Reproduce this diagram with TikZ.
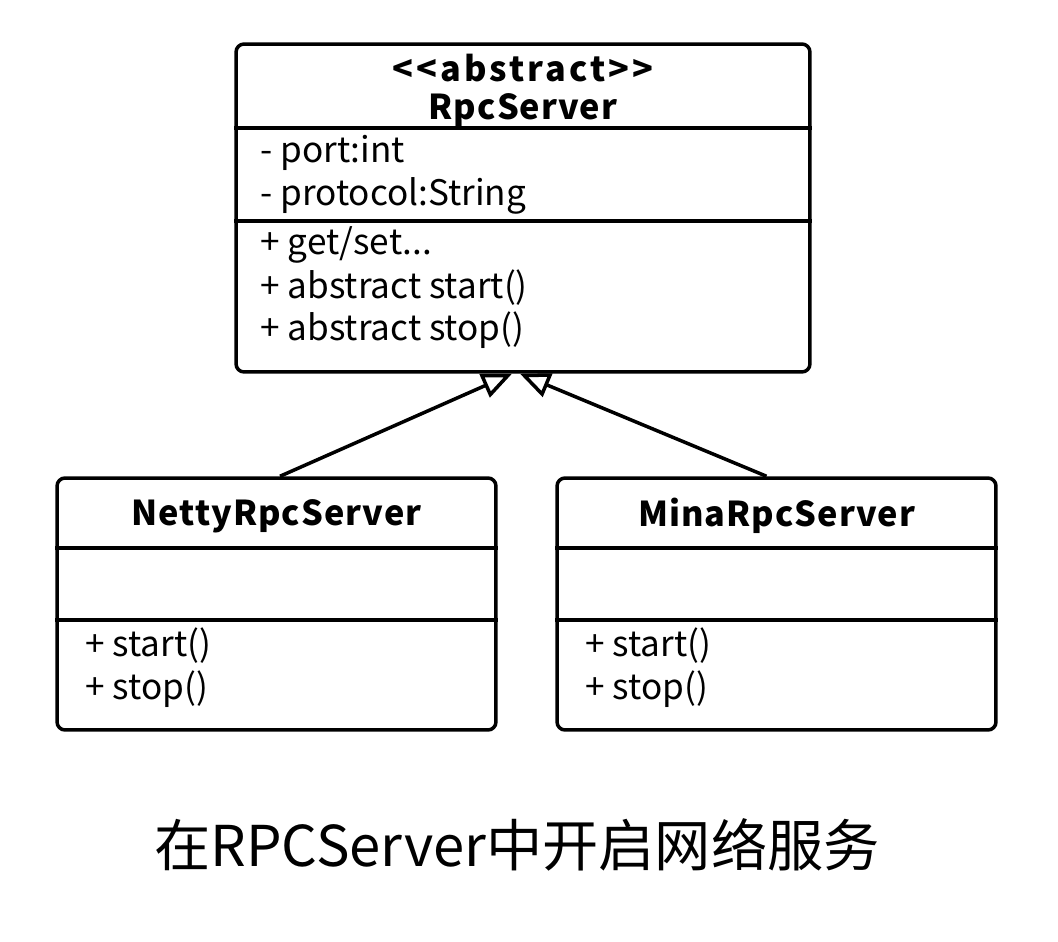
\documentclass[tikz,border=0pt]{standalone}
\usepackage{fontspec}
\setmainfont{Noto Sans CJK SC}
\usetikzlibrary{arrows.meta}

\begin{document}
\begin{tikzpicture}[x=0.02cm, y=-0.02cm,
  umlbox/.style={draw, line width=2pt, rounded corners=0.16cm, inner sep=0pt},
  member/.style={anchor=west, inner sep=0pt, font=\fontsize{20}{24}\selectfont},
  classname/.style={inner sep=0pt, font=\bfseries\fontsize{19.5}{24}\selectfont\addfontfeature{LetterSpace=3}},
  divider/.style={line width=2pt},
  inherit/.style={line width=2pt, -{Triangle[open, length=0.6cm, width=0.5cm]}}]
\useasboundingbox (0,0) rectangle (1058,942);
% class boxes
\node[umlbox, minimum width=11.48cm, minimum height=6.56cm] (rpc) at (523,208) {};
\node[umlbox, minimum width=8.78cm, minimum height=5.04cm] (netty) at (276.5,604) {};
\node[umlbox, minimum width=8.78cm, minimum height=5.04cm] (mina) at (776.5,604) {};
% compartments
\draw[divider] ([yshift=-1.72cm]rpc.north west) -- ([yshift=-1.72cm]rpc.north east);
\draw[divider] ([yshift=-3.58cm]rpc.north west) -- ([yshift=-3.58cm]rpc.north east);
\foreach \cls in {netty, mina}
{
  \draw[divider] ([yshift=-1.44cm]\cls.north west) -- ([yshift=-1.44cm]\cls.north east);
  \draw[divider] ([yshift=-2.88cm]\cls.north west) -- ([yshift=-2.88cm]\cls.north east);
}
% RpcServer
\node[classname, font=\bfseries\fontsize{19.5}{24}\selectfont\addfontfeature{LetterSpace=9}] (rpcStereo) at (523,68) {<{}<abstract>{}>};
\node[classname] (rpcName) at (523,110) {RpcServer};
\foreach \nm/\txt/\ypos in {
  rpcPort/{- port:int}/153,
  rpcProto/{- protocol:String}/196,
  rpcGetSet/{+ get/set...}/245,
  rpcStart/{+ abstract start()}/288,
  rpcStop/{+ abstract stop()}/330}
{
  \node[member] (\nm) at (260,\ypos) {\txt};
}
% subclasses
\node[classname] (nettyName) at (276.5,516) {NettyRpcServer};
\node[classname] (minaName) at (776.5,516) {MinaRpcServer};
\foreach \nm/\xpos in {netty/85, mina/585}
{
  \node[member] (\nm Start) at (\xpos,646) {+ start()};
  \node[member] (\nm Stop) at (\xpos,689) {+ stop()};
}
% generalization
\draw[inherit] ([xshift=0.07cm]netty.north) -- ([xshift=-0.22cm]rpc.south);
\draw[inherit] ([xshift=-0.2cm]mina.north) -- ([xshift=-0.06cm]rpc.south);
% caption
\node[font=\fontsize{32}{38}\selectfont] (caption) at (517,845) {在RPCServer中开启网络服务};
\end{tikzpicture}
\end{document}
